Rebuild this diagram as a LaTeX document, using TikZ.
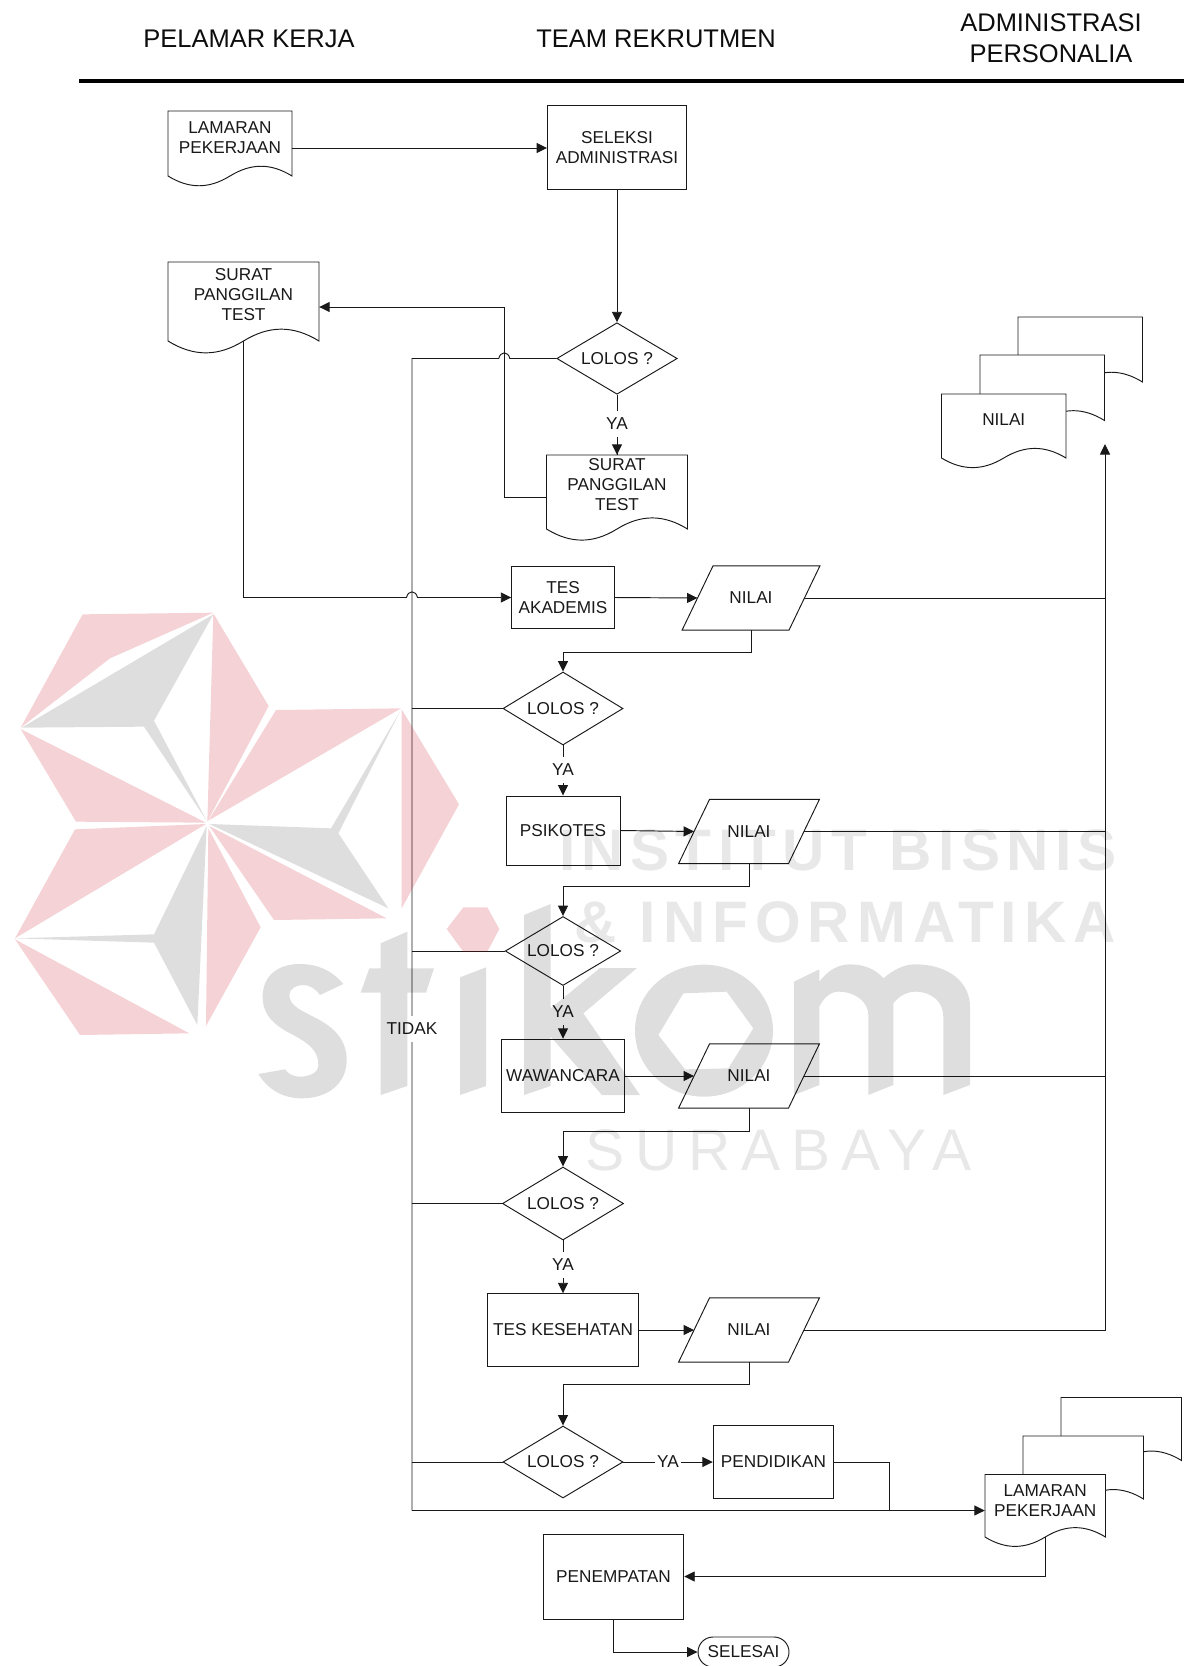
\documentclass[tikz,border=0pt]{standalone}
\usepackage{fontspec}
\setmainfont{Liberation Sans}
\newfontfamily\wmfontA[LetterSpace=10.8]{Liberation Sans}
\newfontfamily\wmfontC[LetterSpace=12]{Liberation Sans}
\newfontfamily\wmfontB[LetterSpace=18.6]{Liberation Sans}
\usetikzlibrary{arrows.meta,shapes.geometric,shapes.misc,calc}
\tikzset{
  base/.style={font=\fontsize{17.2}{20}\selectfont,align=center,inner sep=0pt,text=black!90},
  ln/.style={draw=black!90,line width=0.95pt},
  conn/.style={ln,-{Triangle[length=10.5pt,width=10pt]},line join=miter},
  plain/.style={ln,line join=miter},
  boxnode/.style={base,draw=black!90,line width=0.95pt,rectangle},
  dec/.style={base,draw=black!90,line width=0.95pt,diamond,shape aspect=1.67},
  lab/.style={base,fill=white,inner xsep=2pt,inner ysep=7pt},
  header/.style={font=\fontsize{25.5}{31}\selectfont,align=center,inner sep=0pt,text=black!95},
  pinkw/.style={fill={rgb,255:red,200;green,32;blue,47},fill opacity=.2,draw=none},
  grayw/.style={fill=black,fill opacity=.13,draw=none},
  wmtext/.style={text=black,text opacity=.09,inner sep=0pt,anchor=base west}
}
% doc node: name, x1, x2, ytop, ybottom, raise of the text, text
\newcommand{\docnode}[7]{%
  \pgfmathsetmacro{\dw}{#3-#2}\pgfmathsetmacro{\dh}{#5-#4}%
  \pgfmathsetmacro{\da}{0.2*\dh}%
  \fill[white] (#2,#4) rectangle (#3,#5);
  \draw[ln,fill=white,line join=miter] (#2,#4) -- (#3,#4) -- (#3,#5)
    .. controls ($(#3,#5)+(-.17*\dw,-\da)$) and ($(#3,#5)+(-.33*\dw,-\da)$) .. ($(#2,#5)!.5!(#3,#5)$)
    .. controls ($(#2,#5)+(.33*\dw,\da)$) and ($(#2,#5)+(.17*\dw,\da)$) .. (#2,#5) -- cycle;
  \node[base,minimum width=\dw,minimum height=\dh] (#1) at ($(#2,#4)!.5!(#3,#5)$)
    {\raisebox{\dimexpr#6pt-4.3pt}[0pt][0pt]{\begin{tabular}{@{}c@{}}#7\end{tabular}}};
}
% slanted data node: name, cx, cy, width between slant midpoints, text
\newcommand{\nilainode}[5]{%
  \node[base,minimum width=#4,minimum height=64] (#1) at (#2,#3) {#5};
  \draw[plain] ($(#1.south west)+(-15.5,0)$) -- ($(#1.north west)+(15.5,0)$)
    -- ($(#1.north east)+(15.5,0)$) -- ($(#1.south east)+(-15.5,0)$) -- cycle;
}
\begin{document}
\begin{tikzpicture}[x=1pt,y=-1pt]
\path[use as bounding box] (0,0) rectangle (1184,1666);

% headers
\node[header] (h1) at (249,39) {PELAMAR KERJA};
\node[header] (h2) at (656,39) {TEAM REKRUTMEN};
\node[header] (h3) at (1051,38) {ADMINISTRASI\\PERSONALIA};
\coordinate (ruleL) at (79,81);
\coordinate (ruleR) at (1184,81);
\draw[line width=4.5pt,black] (ruleL) -- (ruleR);

% documents
\docnode{lam}{168}{292}{111}{176}{4}{LAMARAN\\PEKERJAAN}
\docnode{sur}{168}{319}{262}{341}{4.5}{SURAT\\PANGGILAN\\TEST}
\docnode{surb}{546.5}{687.5}{455}{529}{5}{SURAT\\PANGGILAN\\TEST}
% nilai stack
\docnode{na}{1018}{1142.5}{317}{382}{0}{}
\docnode{nb}{980}{1104.5}{355}{420.5}{0}{}
\docnode{nc}{941.5}{1066}{394}{458}{4}{NILAI}
% lamaran stack
\docnode{la}{1061}{1181.5}{1397.5}{1460.5}{0}{}
\docnode{lb}{1023}{1143.5}{1436}{1499}{0}{}
\docnode{lc}{985}{1105.5}{1474.5}{1537}{3.5}{LAMARAN\\PEKERJAAN}

% process boxes
\node[boxnode,minimum width=139,minimum height=83.5] (sel) at (617,147.5) {SELEKSI\\ADMINISTRASI};
\node[boxnode,minimum width=102.5,minimum height=61.5] (tes) at (563,597.5) {TES\\AKADEMIS};
\node[boxnode,minimum width=114,minimum height=69] (psi) at (563,830.5) {PSIKOTES};
\node[boxnode,minimum width=123.5,minimum height=73.5] (waw) at (563,1076) {WAWANCARA};
\node[boxnode,minimum width=150.5,minimum height=72.5] (kes) at (563,1330) {TES KESEHATAN};
\node[boxnode,minimum width=120.5,minimum height=72.5] (pen) at (773.5,1462) {PENDIDIKAN};
\node[boxnode,minimum width=140.5,minimum height=85] (pmp) at (613.5,1576.5) {PENEMPATAN};
\node[base,draw=black!90,line width=0.95pt,rounded rectangle,minimum width=91,minimum height=30] (sls) at (743.5,1652) {SELESAI};

% decisions
\node[dec,minimum width=120.5,minimum height=71.5] (d1) at (617,358.5) {LOLOS ?};
\node[dec,minimum width=120,minimum height=73] (d2) at (563,708.5) {LOLOS ?};
\node[dec,minimum width=115.5,minimum height=69] (d3) at (563,951) {LOLOS ?};
\node[dec,minimum width=121,minimum height=73] (d4) at (563,1203.5) {LOLOS ?};
\node[dec,minimum width=120,minimum height=72] (d5) at (563,1462) {LOLOS ?};

% nilai data nodes
\nilainode{n1}{751}{598}{106.5}{NILAI}
\nilainode{n2}{749}{831.5}{109.5}{NILAI}
\nilainode{n3}{749}{1076}{109.5}{NILAI}
\nilainode{n4}{749}{1330}{109.5}{NILAI}

% helper coordinates
\coordinate (busTop) at (412,358.5);
\coordinate (busBot) at (412,1510.5);
\coordinate (railTop) at (1105,444);
\coordinate (jmpA) at (504.3,358.5);
\coordinate (jmpB) at (412,597.5);
\coordinate (backX) at (504.3,307);
\coordinate (joinP) at (889.5,1510.5);

% connectors
\draw[conn] ([yshift=-4.5pt]lam.east) -- ([yshift=-4.5pt]lam.east -| sel.west);
\draw[conn] (sel.south) -- (d1.north);
\draw[plain] (d1.south) -- (surb.north);
\draw[conn] ($(surb.north)+(0,-15)$) -- (surb.north);
\draw[conn] ([yshift=-5pt]surb.west) -| (backX) -- (backX -| sur.east);
% TIDAK bus from first decision, jumping over the return line
\draw[plain] (d1.west) -- ([xshift=5.5pt]jmpA)
   .. controls ([xshift=4pt,yshift=7.5pt]jmpA) and ([xshift=-4pt,yshift=7.5pt]jmpA) .. ([xshift=-5.5pt]jmpA)
   -- (busTop) -- (busBot);
\draw[conn] (sur.south) |- ([xshift=-5.5pt]jmpB)
   .. controls ([xshift=-4pt,yshift=7.5pt]jmpB) and ([xshift=4pt,yshift=7.5pt]jmpB) .. ([xshift=5.5pt]jmpB)
   -- (tes.west);
\draw[conn] (tes.east) -- (n1.west);
\draw[plain] (n1.east) -- (n1.east -| railTop);
\coordinate (m1) at ($(n1.south)+(0,22.5)$);
\draw[conn] (n1.south) -- (m1) -| (d2.north);
\draw[plain] (d2.west) -- (d2.west -| busTop);
\draw[conn] (d2.south) -- (psi.north);
\draw[conn] (psi.east) -- (n2.west);
\draw[plain] (n2.east) -- (n2.east -| railTop);
\coordinate (m2) at ($(n2.south)+(0,22.5)$);
\draw[conn] (n2.south) -- (m2) -| (d3.north);
\draw[plain] (d3.west) -- (d3.west -| busTop);
\draw[conn] (d3.south) -- (waw.north);
\draw[conn] (waw.east) -- (n3.west);
\draw[plain] (n3.east) -- (n3.east -| railTop);
\coordinate (m3) at ($(n3.south)+(0,23)$);
\draw[conn] (n3.south) -- (m3) -| (d4.north);
\draw[plain] (d4.west) -- (d4.west -| busTop);
\draw[conn] (d4.south) -- (kes.north);
\draw[conn] (kes.east) -- (n4.west);
\draw[conn] (n4.east) -| (railTop);
\coordinate (m4) at ($(n4.south)+(0,22.5)$);
\draw[conn] (n4.south) -- (m4) -| (d5.north);
\draw[plain] (d5.west) -- (d5.west -| busTop);
\draw[conn] (d5.east) -- (pen.west);
\draw[plain] (pen.east) -| (joinP);
\draw[conn] (busBot) -- (busBot -| lc.west);
\coordinate (m5) at (lc.south |- pmp.east);
\draw[conn] (lc.south) -- (m5) -- (pmp.east);
\draw[conn] (pmp.south) |- (sls.west);

% labels on connectors
\node[lab] (ya1) at (617,424) {YA};
\node[lab] (ya2) at (563,770) {YA};
\node[lab] (ya3) at (563,1012) {YA};
\node[lab] (ya4) at (563,1265) {YA};
\node[lab] (ya5) at (668,1462) {YA};
\node[lab,inner xsep=0pt] (tidak) at (412,1029) {TIDAK};

% watermark, laid over the diagram
\begin{scope}[shift={(0,580)},x=.33333pt,y=-.33333pt]
 \fill[pinkw] (248,103) -- (640,98) -- (330,235) -- (62,443) -- cycle;
 \fill[grayw] (640,103) -- (462,422) -- (620,722) -- (432,440) -- (65,443) -- cycle;
 \fill[pinkw] (640,100) -- (806,378) -- (622,725) -- cycle;
 \fill[pinkw] (62,447) -- (618,728) -- (228,725) -- cycle;
 \fill[pinkw] (828,390) -- (1203,385) -- (625,722) -- cycle;
 \fill[pinkw] (1205,388) -- (1377,673) -- (1205,985) -- cycle;
 \fill[grayw] (628,732) -- (993,745) -- (1200,395) -- (1015,760) -- (1165,985) -- cycle;
 \fill[pinkw] (628,738) -- (1160,1015) -- (822,1020) -- cycle;
 \fill[pinkw] (225,748) -- (618,732) -- (45,1075) -- cycle;
 \fill[grayw] (45,1075) -- (462,1063) -- (620,738) -- (592,1335) -- (462,1088) -- cycle;
 \fill[pinkw] (625,745) -- (782,1042) -- (618,1338) -- cycle;
 \fill[pinkw] (45,1078) -- (568,1360) -- (240,1365) -- cycle;
\end{scope}
\begin{scope}[shift={(250,880)},x=.33333pt,y=-.33333pt]
 % dot of the i
 \fill[pinkw] (640,82) -- (712,82) -- (748,147) -- (712,215) -- (640,215) -- (590,147) -- cycle;
 % s
 \fill[grayw] (280,312) .. controls (245,270) and (200,252) .. (150,252)
   .. controls (80,252) and (38,290) .. (38,350)
   .. controls (38,410) and (80,440) .. (130,465)
   .. controls (175,490) and (205,510) .. (205,555)
   .. controls (205,580) and (175,590) .. (150,590)
   .. controls (130,590) and (115,582) .. (105,568)
   -- (25,582)
   .. controls (55,630) and (100,655) .. (155,655)
   .. controls (235,655) and (290,610) .. (290,540)
   .. controls (290,470) and (240,435) .. (190,410)
   .. controls (150,390) and (118,375) .. (118,345)
   .. controls (118,325) and (140,315) .. (160,315)
   .. controls (180,315) and (198,328) .. (210,345) -- cycle;
 % t
 \fill[grayw] (392,190) -- (472,155) -- (472,265) -- (552,265) -- (528,338) -- (472,338)
   -- (472,618) -- (392,645) -- (392,338) -- (332,338) -- (358,265) -- (392,265) -- cycle;
 % i
 \fill[grayw] (630,292) -- (708,262) -- (708,618) -- (630,645) -- cycle;
 % k
 \fill[grayw] (822,105) -- (902,72) -- (902,385) -- (1050,264) -- (1161,264) -- (1000,400)
   -- (1170,645) -- (1056,645) -- (902,470) -- (902,618) -- (822,645) -- cycle;
\end{scope}
\begin{scope}[shift={(620,920)},x=.33333pt,y=-.33333pt]
 % o
 \fill[grayw,even odd rule] (252,332) ellipse [x radius=207,y radius=198]
   (115,345) -- (190,220) -- (320,215) -- (400,325) -- (325,445) -- (195,448) -- cycle;
 % m
 \fill[grayw] (522,185) -- (598,148) -- (598,185) .. controls (625,150) and (655,133) .. (690,133)
   .. controls (735,133) and (770,150) .. (790,175) .. controls (820,150) and (850,133) .. (885,133)
   .. controls (990,133) and (1050,190) .. (1050,260) -- (1050,495) -- (970,525) -- (970,290)
   .. controls (970,245) and (935,215) .. (885,215) .. controls (860,215) and (835,230) .. (820,250)
   -- (820,495) -- (745,525) -- (745,285) .. controls (745,245) and (705,215) .. (655,215)
   .. controls (630,215) and (610,235) .. (598,260) -- (598,495) -- (522,525) -- cycle;
\end{scope}
\node[wmtext] (w1) at (559,870) {\fontsize{58.6}{60}\wmfontA\bfseries INSTITUT BISNIS};
\node[wmtext] (w2) at (574,942) {\fontsize{58.6}{60}\wmfontC\bfseries \& INFORMATIKA};
\node[wmtext] (w3) at (585,1170) {\fontsize{58.6}{60}\wmfontB SURABAYA};
\end{tikzpicture}
\end{document}
